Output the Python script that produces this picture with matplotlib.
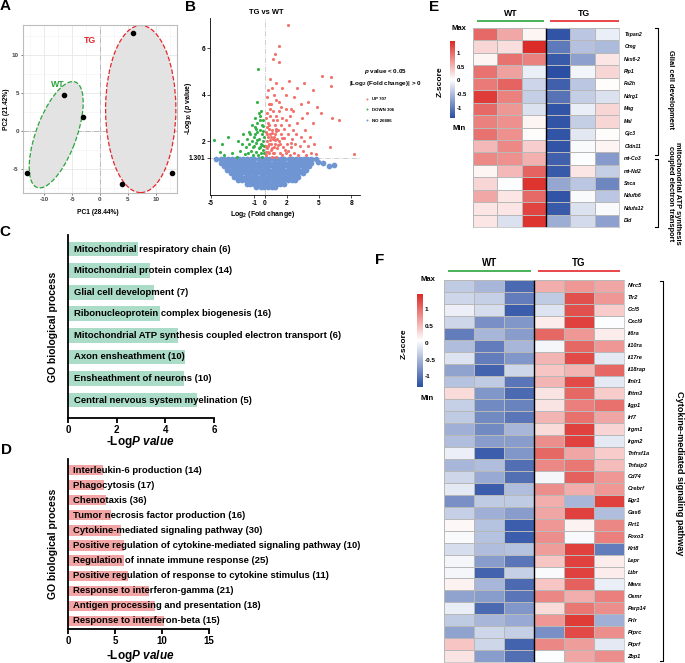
import numpy as np
import matplotlib
matplotlib.use('Agg')
import matplotlib.pyplot as plt
from matplotlib.patches import Ellipse
from matplotlib.colors import LinearSegmentedColormap, Normalize
from matplotlib.cm import ScalarMappable
from matplotlib.lines import Line2D

plt.rcParams['font.family'] = ['Liberation Sans', 'DejaVu Sans']
plt.rcParams['font.weight'] = 'bold'
plt.rcParams['axes.labelweight'] = 'bold'
plt.rcParams['axes.unicode_minus'] = False
plt.rcParams['mathtext.fontset'] = 'custom'
plt.rcParams['mathtext.rm'] = 'Liberation Sans:bold'
plt.rcParams['mathtext.it'] = 'Liberation Sans:italic:bold'
plt.rcParams['mathtext.bf'] = 'Liberation Sans:bold'
plt.rcParams['mathtext.default'] = 'rm'

# ---------- A: PCA ----------
pca_wt_x = [-13.0, -6.5, -3.0]
pca_wt_y = [-5.5, 4.8, 1.8]
pca_tg_x = [6.0, 4.0, 12.9]
pca_tg_y = [13.0, -7.0, -5.5]

# ---------- B: volcano ----------
up_x = [2.1, 1.27, 0.76, 0.95, 1.33, 5.3, 6.1, 6.1, 6.25, 6.9, 6.0, 8.2,
        0.5, 1.0, 1.6, 2.2, 3.0, 3.6, 4.4, 1.9, 2.7, 0.3, 0.8, 4.0, 3.3, 4.8, 5.2,
        2.4, 1.3, 0.55, 0.2,
        0.1, 0.2, 0.15, 0.1, 0.25, 0.2, 0.35, 0.4, 0.45, 0.4, 0.5, 0.45, 0.6, 0.65,
        0.7, 0.6, 0.75, 0.7, 0.85, 0.9, 0.95, 0.9, 1.0, 1.05, 1.1, 1.15, 1.2, 1.1,
        1.3, 1.35, 1.4, 1.45, 1.5, 1.6, 1.6, 1.7, 1.75, 1.8, 1.9, 1.95, 2.0, 2.1,
        2.2, 2.3, 2.3, 2.4, 2.5, 2.6, 2.7, 2.8, 2.9, 3.0, 3.1, 3.2, 3.3, 3.5, 3.6,
        3.7, 3.8, 4.0, 4.2, 4.3, 4.5, 4.7, 3.4, 2.6, 0.3, 0.55, 0.8, 0.3, 0.15,
        0.05, 0.05, 0.35, 0.65, 1.05, 1.45, 1.9, 4.4, 3.9,
        0.12, 0.28, 0.42, 0.58, 0.72, 0.88, 1.02, 1.18, 0.22, 0.38, 0.52, 0.68,
        0.82, 0.98, 1.25, 1.55, 1.85, 2.15, 2.45]
up_y = [7.0, 6.1, 5.55, 5.75, 5.4, 4.8, 4.75, 4.4, 3.0, 2.9, 1.75, 1.45,
        4.7, 4.5, 4.3, 4.6, 4.3, 4.5, 4.2, 4.0, 3.9, 4.2, 4.0, 3.7, 3.6, 3.5, 3.2,
        3.4, 3.7, 3.6, 3.9,
        1.4, 1.7, 2.0, 2.4, 2.8, 3.2, 1.5, 1.9, 2.3, 2.7, 3.1, 3.4, 1.35, 1.7,
        2.1, 2.5, 2.9, 3.3, 1.5, 1.9, 2.3, 2.7, 3.1, 1.35, 1.7, 2.1, 2.5, 2.9,
        3.3, 1.5, 1.9, 2.3, 2.7, 3.0, 1.4, 1.75, 2.15, 2.55, 2.9, 1.5, 1.9, 2.3,
        2.7, 3.1, 1.4, 1.75, 2.1, 2.5, 1.5, 1.9, 2.3, 2.8, 1.4, 1.8, 2.2, 1.6, 2.0,
        2.5, 1.4, 1.8, 2.2, 1.5, 1.9, 1.45, 3.0, 3.3, 1.55, 1.9, 2.2, 2.2, 2.6,
        1.8, 3.0, 3.6, 4.3, 3.8, 3.5, 3.4, 2.8, 3.2,
        1.55, 1.8, 2.05, 2.2, 1.5, 2.05, 2.45, 1.85, 2.3, 2.55, 1.65, 2.35,
        1.75, 2.55, 2.0, 2.15, 1.65, 1.6, 1.95]

down_x = [-4.7, -3.4, -4.2, -4.0, -3.8, -3.1, -2.6, -0.64, -0.73,
          -2.3, -2.1, -1.9, -1.8, -1.7, -1.6, -1.5, -1.45, -1.3, -1.25, -1.2,
          -1.1, -1.05, -1.0, -0.95, -0.9, -0.85, -0.8, -0.75, -0.7, -0.65, -0.6,
          -0.55, -0.5, -0.45, -0.4, -0.35, -0.3, -0.3, -0.25, -0.2, -0.2, -0.15,
          -0.15, -0.1, -0.1, -0.1, -0.35, -0.6, -1.35, -2.0, -2.5,
          -0.25, -0.45, -0.7, -0.9, -1.15, -0.15, -0.5, -0.8]
down_y = [2.08, 2.2, 1.55, 1.9, 1.4, 1.5, 1.35, 5.1, 3.7,
          1.6, 1.9, 1.45, 1.75, 2.1, 1.5, 1.9, 2.4, 1.6, 2.0, 2.7,
          1.4, 1.8, 2.2, 2.6, 3.0, 1.55, 1.95, 2.4, 2.8, 1.4, 1.7,
          2.1, 2.5, 3.1, 1.5, 1.9, 2.3, 2.7, 1.35, 1.65, 2.0, 2.45,
          2.9, 1.5, 1.8, 2.2, 3.3, 3.2, 2.3, 2.3, 2.0,
          1.85, 1.75, 2.05, 2.3, 1.75, 2.65, 2.9, 2.55]

ns_levels = [1.24, 1.09, 0.94, 0.79, 0.64, 0.49, 0.34, 0.19, 0.06]
ns_rows = [
    [-4.5, -4.1, -3.8, -3.4, -3.1, -2.7, -2.4, -2.0, -1.7, -1.3, -1.0, -0.6, -0.3,
     0.1, 0.4, 0.8, 1.1, 1.5, 1.8, 2.2, 2.5, 2.9, 3.2, 3.6, 3.9, 4.3, 4.7],
    [-4.1, -3.8, -3.4, -3.1, -2.7, -2.4, -2.0, -1.7, -1.3, -1.0, -0.6, -0.3, 0.1,
     0.4, 0.8, 1.1, 1.5, 1.8, 2.2, 2.5, 2.9, 3.2, 3.6, 3.9, 4.3],
    [-3.8, -3.5, -3.1, -2.8, -2.4, -2.1, -1.8, -1.4, -1.1, -0.7, -0.4, 0.0, 0.3,
     0.7, 1.0, 1.4, 1.7, 2.1, 2.4, 2.8, 3.1, 3.5, 3.8, 4.1],
    [-3.5, -3.2, -2.8, -2.5, -2.1, -1.8, -1.4, -1.1, -0.7, -0.4, 0.0, 0.3, 0.7,
     1.0, 1.4, 1.7, 2.1, 2.4, 2.8, 3.1, 3.5, 3.8],
    [-3.2, -2.9, -2.5, -2.2, -1.8, -1.5, -1.1, -0.8, -0.4, -0.1, 0.3, 0.6, 1.0,
     1.3, 1.7, 2.0, 2.4, 2.7, 3.1, 3.5],
    [-2.9, -2.5, -2.2, -1.8, -1.5, -1.1, -0.8, -0.4, -0.1, 0.3, 0.6, 1.0, 1.3,
     1.7, 2.0, 2.4, 2.8, 3.1],
    [-2.5, -2.1, -1.8, -1.4, -1.1, -0.7, -0.4, 0.0, 0.3, 0.7, 1.0, 1.4, 1.7,
     2.1, 2.5, 2.8],
    [-1.7, -1.4, -1.0, -0.7, -0.3, 0.0, 0.4, 0.7, 1.1, 1.4, 1.8],
    [-0.8, -0.4, -0.1, 0.3, 0.6, 0.9],
]
ns_extra_x = [4.9, 5.4, 5.9, 6.4]
ns_extra_y = [1.12, 1.08, 0.95, 1.0]

# ---------- C / D: GO enrichment ----------
c_terms = ['Mitochondrial respiratory chain (6)',
           'Mitochondrial protein complex (14)',
           'Glial cell development (7)',
           'Ribonucleoprotein complex biogenesis (16)',
           'Mitochondrial ATP synthesis coupled electron transport (6)',
           'Axon ensheathment (10)',
           'Ensheathment of neurons (10)',
           'Central nervous system myelination (5)']
c_values = [2.86, 3.36, 3.52, 3.77, 4.5, 4.8, 4.78, 5.3]

d_terms = ['Interleukin-6 production (14)',
           'Phagocytosis (17)',
           'Chemotaxis (36)',
           'Tumor necrosis factor production (16)',
           'Cytokine-mediated signaling pathway (30)',
           'Positive regulation of cytokine-mediated signaling pathway (10)',
           'Regulation of innate immune response (25)',
           'Positive regulation of response to cytokine stimulus (11)',
           'Response to interferon-gamma (21)',
           'Antigen processing and presentation (18)',
           'Response to interferon-beta (15)']
d_values = [3.69, 3.83, 4.04, 4.57, 5.6, 5.96, 5.96, 6.35, 8.65, 9.26, 10.2]

# ---------- E / F: heatmaps (WT1 WT2 WT3 TG1 TG2 TG3) ----------
e_genes = ['Tspan2', 'Omg', 'Nkx6-2', 'Plp1', 'Fa2h', 'Ndrg1', 'Mag', 'Mal',
           'Gjc3', 'Cldn11', 'mt-Co3', 'mt-Nd2', 'Snca', 'Ndufb6', 'Ndufa12', 'Dld']
e_values = [
    [1.00, 0.60, 0.10, -1.30, -0.40, -0.10],
    [0.30, 0.25, 1.40, -1.00, -0.45, -0.50],
    [0.10, 0.95, 0.85, -1.25, -0.70, 0.20],
    [0.95, 0.65, -0.10, -1.35, -0.05, 0.30],
    [0.90, 1.05, -0.30, -1.20, -0.40, 0.05],
    [1.30, 0.85, -0.35, -1.05, -0.35, -0.20],
    [1.00, 0.70, -0.20, -1.30, -0.10, 0.30],
    [0.85, 0.75, 0.10, -1.30, -0.35, 0.30],
    [0.95, 0.75, 0.05, -1.30, -0.15, 0.05],
    [0.50, 0.80, 0.35, -1.30, 0.00, 0.10],
    [0.80, 0.75, 0.55, -1.20, 0.02, -0.75],
    [0.10, 0.50, 1.05, -1.25, 0.20, -0.35],
    [0.30, 0.02, 1.35, -0.65, -0.40, -0.90],
    [0.60, 0.20, 1.00, -1.30, 0.00, -0.40],
    [0.20, 0.20, 1.25, -1.25, -0.20, 0.00],
    [0.20, -0.20, 1.35, -0.60, -0.25, -0.70],
]

f_genes = ['Nlrc5', 'Tlr2', 'Ccl5', 'Cxcl9', 'Il6ra', 'Il10ra', 'Il17re', 'Il18rap',
           'Ifnlr1', 'Ifitm3', 'Iigp1', 'Irf7', 'Irgm1', 'Irgm2', 'Tnfrsf1a',
           'Tnfaip3', 'Cd74', 'Crebrf', 'Egr1', 'Gas6', 'Flrt1', 'Foxo3', 'Krt8',
           'Lepr', 'Ltbr', 'Mavs', 'Osmr', 'Parp14', 'Prlr', 'Ptprc', 'Ptprf', 'Zbp1']
f_values = [
    [-0.35, -0.50, -1.10, 0.60, 0.75, 0.65],
    [-0.25, -0.30, -0.95, -0.35, 1.20, 0.75],
    [-0.05, -0.20, -1.20, -0.15, 1.20, 0.40],
    [-0.25, -0.80, -0.75, 0.20, 1.30, 0.05],
    [-0.95, -0.50, -0.70, 1.05, 0.75, 0.20],
    [-0.45, -0.95, -0.50, 0.00, 1.05, 0.75],
    [-0.15, -0.95, -0.75, 0.55, 1.25, -0.10],
    [-0.65, -1.15, -0.25, 0.45, 0.55, 1.05],
    [-0.40, -0.35, -1.00, 0.55, 1.25, -0.10],
    [0.30, -0.75, -1.10, 0.25, 1.05, 0.40],
    [-0.30, -0.85, -0.90, 0.25, 0.90, 1.00],
    [-0.35, -0.85, -1.00, 0.55, 1.00, 0.65],
    [-0.55, -0.85, -0.50, 0.30, 1.30, 0.35],
    [-0.45, -0.70, -0.70, 0.80, 1.30, -0.10],
    [-0.05, -1.20, -0.75, 1.05, 0.65, 0.40],
    [-0.50, -0.45, -1.05, 0.85, 0.95, 0.50],
    [-0.25, -0.60, -1.05, 0.00, 1.10, 0.75],
    [-0.10, -1.20, -0.45, 0.80, 0.60, 0.75],
    [-0.80, -0.35, -0.35, 0.60, -0.50, 1.30],
    [-0.30, -0.55, -0.70, 0.65, 1.30, -0.45],
    [0.12, -0.40, -1.20, 0.75, 0.15, 0.85],
    [0.03, -0.40, -1.20, 0.80, 0.02, 0.90],
    [-0.20, -0.45, -0.40, 0.70, 1.30, -0.95],
    [0.00, -0.70, -1.00, 0.45, 1.30, 0.20],
    [0.00, -1.15, -0.30, 0.03, 1.30, 0.20],
    [0.15, -0.50, -1.10, 0.45, 1.10, -0.07],
    [-0.65, -0.70, -1.00, 0.85, 0.60, 0.90],
    [-0.07, -1.10, -0.75, 0.30, 0.95, 0.80],
    [-0.35, -0.50, -0.60, 0.75, 1.35, -0.55],
    [-0.65, -0.25, -0.30, -0.80, 1.25, 0.80],
    [0.45, -0.25, -1.15, 0.85, 0.70, -0.10],
    [0.25, -0.70, -1.05, 0.05, 0.65, 0.80],
]

W, H = 685, 663
fig = plt.figure(figsize=(W / 100, H / 100), dpi=100)


def add_ax(x0, y0, x1, y1):
    return fig.add_axes([x0 / W, 1 - y1 / H, (x1 - x0) / W, (y1 - y0) / H])


def ftext(x, y, s, **kw):
    fig.text(x / W, 1 - y / H, s, **kw)


green = '#2aa43c'
red = '#e5262b'

# ===== A =====
ax = add_ax(23, 25, 177, 193)
ax.set_xlim(-13.8, 13.8)
ax.set_ylim(-8.2, 14)
ax.set_xticks([-10, -5, 0, 5, 10])
ax.set_yticks([-5, 0, 5, 10])
ax.set_xticks([-12.5, -7.5, -2.5, 2.5, 7.5, 12.5], minor=True)
ax.set_yticks([-7.5, -2.5, 2.5, 7.5, 12.5], minor=True)
ax.grid(True, which='major', color='#e6e6e6', lw=0.6)
ax.grid(True, which='minor', color='#f2f2f2', lw=0.4)
ax.set_axisbelow(True)
ax.axhline(0, color='#b0b0b0', lw=0.6, ls='-.', zorder=1)
ax.axvline(0, color='#b0b0b0', lw=0.6, ls='-.', zorder=1)
ax.add_patch(Ellipse((-7.85, -0.5), 15.6, 6.9, angle=61, facecolor='#e3e3e3',
                     edgecolor=green, ls='--', lw=0.9, zorder=2))
ax.add_patch(Ellipse((7.3, 2.9), 12.6, 22.1, facecolor='#e3e3e3',
                     edgecolor=red, ls='--', lw=0.9, zorder=2))
ax.scatter(pca_wt_x, pca_wt_y, s=9, color='black', zorder=4)
ax.scatter(pca_tg_x, pca_tg_y, s=9, color='black', zorder=4)
ax.text(-7.6, 6.2, 'WT', color=green, fontsize=6.3, ha='center', va='center')
ax.text(-1.85, 12.0, 'TG', color=red, fontsize=6.3, ha='center', va='center')
ax.tick_params(labelsize=4.5, length=1.5, width=0.5, colors='#444444', pad=1.5)
ax.tick_params(which='minor', length=0)
for s in ax.spines.values():
    s.set_color('#bdbdbd')
    s.set_linewidth(0.8)
ftext(98, 212, 'PC1 (28.44%)', fontsize=4.8, ha='center', va='center')
ftext(6, 109, 'PC2 (21.42%)', fontsize=4.8, ha='center', va='center', rotation=90)

# ===== B =====
ax = add_ax(210, 18, 360, 195)
ax.set_xlim(-5.1, 8.8)
ax.set_ylim(-0.3, 7.3)
ns_x, ns_y = [], []
for lev, row in zip(ns_levels, ns_rows):
    ns_x += row
    ns_y += [lev] * len(row)
ns_x += ns_extra_x
ns_y += ns_extra_y
ax.scatter(ns_x, ns_y, s=17, color='#6f96d2', linewidths=0, zorder=2)
ax.scatter(down_x, down_y, s=5, color='#33b24a', linewidths=0, zorder=3)
ax.scatter(up_x, up_y, s=5, color='#f2736c', linewidths=0, zorder=3)
ax.axhline(1.301, color='#c8c8c8', lw=0.6, ls='-.', zorder=1)
ax.axvline(0, color='#c8c8c8', lw=0.6, ls='-.', zorder=1)
ax.set_xticks([-5, -1, 0, 2, 5, 8])
ax.set_yticks([1.301, 2, 4, 6])
ax.set_yticklabels(['1.301', '2', '4', '6'])
ax.spines['top'].set_visible(False)
ax.spines['right'].set_visible(False)
for s in ['left', 'bottom']:
    ax.spines[s].set_linewidth(0.6)
ax.tick_params(labelsize=4.8, length=2, width=0.5, pad=1.5)
ftext(266, 12, 'TG vs WT', fontsize=5.4, ha='center', va='center')
ftext(263, 215, r'Log$_2$ (Fold change)', fontsize=5, ha='center', va='center')
ftext(189, 108, r'-Log$_{10}$ ($\mathit{p}$ value)', fontsize=5, ha='center',
      va='center', rotation=90)
ftext(385, 72, r'$\mathit{p}$ value < 0.05', fontsize=4.5, ha='center', va='center')
ftext(385, 84, r'|Log$_2$ (Fold change)| > 0', fontsize=4.5, ha='center', va='center')
handles = [Line2D([], [], ls='none', marker='o', ms=1.4, color=c, mew=0)
           for c in ['#f2736c', '#33b24a', '#6f96d2']]
ax.legend(handles, ['UP 707', 'DOWN 306', 'NO 26886'], loc='upper left',
          bbox_to_anchor=(366 / W, 1 - 97 / H), bbox_transform=fig.transFigure,
          frameon=False, fontsize=3.2, handlelength=0.6, handletextpad=0.8,
          labelspacing=1.5, borderpad=0, borderaxespad=0)


# ===== C / D =====
def go_panel(box, terms, values, color, xlim, xticks, text_x, ylim, xlab_y):
    ax = add_ax(*box)
    pos = np.arange(len(terms))
    ax.barh(pos, values, height=0.68, color=color, zorder=1)
    for i, t in enumerate(terms):
        ax.text(text_x, i, t, fontsize=6.8, va='center', ha='left', clip_on=False, zorder=3)
    ax.set_xlim(*xlim)
    ax.set_ylim(*ylim)
    ax.set_xticks(xticks)
    ax.set_yticks([])
    ax.spines['top'].set_visible(False)
    ax.spines['right'].set_visible(False)
    ax.spines['left'].set_linewidth(1.3)
    ax.spines['bottom'].set_linewidth(1.3)
    ax.tick_params(axis='x', labelsize=7, length=3.5, width=1.3, pad=1.5)
    x0, y0, x1, y1 = box
    ftext(53, (y0 + y1) / 2, 'GO biological process', fontsize=7.5, rotation=90,
          ha='center', va='center')
    ftext(140, xlab_y, r'-Log$\mathit{P\ value}$', fontsize=8.5, ha='center', va='center')
    return ax


go_panel((68, 235, 214, 418), c_terms, c_values, '#aadcc7', (0, 6), [0, 2, 4, 6],
         0.25, (7.83, -0.65), 442)
go_panel((68, 459, 209, 629), d_terms, d_values, '#f3a5a6', (0, 15), [0, 5, 10, 15],
         0.56, (10.53, -0.73), 656)

# ===== E / F heatmaps =====
cmap = LinearSegmentedColormap.from_list('zs', ['#2a4ea3', '#ffffff', '#dc2a26'])


def heat_panel(box, values, genes, norm, gene_x, gene_fs, header_y, text_y,
               wt_span, tg_span, header_fs):
    ax = add_ax(*box)
    data = np.array(values)
    n = data.shape[0]
    ax.pcolormesh(data, cmap=cmap, norm=norm, edgecolors='#b8b8b8', linewidth=0.5)
    ax.set_xlim(0, 6)
    ax.set_ylim(n, 0)
    ax.set_xticks([])
    ax.set_yticks([])
    for s in ax.spines.values():
        s.set_color('#b8b8b8')
        s.set_linewidth(0.5)
    ax.axvline(3, color='black', lw=1.0)
    for i, g in enumerate(genes):
        ax.text(gene_x, i + 0.5, g, fontsize=gene_fs, style='italic', ha='left',
                va='center', clip_on=False)
    ax.plot(wt_span, [header_y, header_y], color=green, lw=1.2, clip_on=False,
            solid_capstyle='butt')
    ax.plot(tg_span, [header_y, header_y], color=red, lw=1.2, clip_on=False,
            solid_capstyle='butt')
    ax.text(np.mean(wt_span), text_y, 'WT', fontsize=header_fs, ha='center',
            va='center', clip_on=False)
    ax.text(np.mean(tg_span), text_y, 'TG', fontsize=header_fs, ha='center',
            va='center', clip_on=False)
    return ax


def bracket(ax, x, y0, y1, tick=0.12):
    ax.plot([x - tick, x, x, x - tick], [y0, y0, y1, y1], color='black', lw=0.8,
            clip_on=False)


def colorbar(box, norm, maxmin, z_pos, fs):
    cax = add_ax(*box)
    cb = fig.colorbar(ScalarMappable(norm=norm, cmap=cmap), cax=cax,
                      ticks=[-1, -0.5, 0, 0.5, 1])
    cb.ax.set_yticklabels(['-1', '-0.5', '0', '0.5', '1'])
    cb.outline.set_visible(False)
    cb.ax.tick_params(labelsize=fs, length=0, pad=1.5)
    (mx, my), (nx, ny) = maxmin
    ftext(mx, my, 'Max', fontsize=5.5, ha='center', va='center')
    ftext(nx, ny, 'Min', fontsize=5.5, ha='center', va='center')
    ftext(z_pos[0], z_pos[1], 'Z-score', fontsize=6, rotation=90, ha='center', va='center')


norm_e = Normalize(-1.35, 1.42)
ax_e = heat_panel((473, 28, 619, 227), e_values, e_genes, norm_e, 6.22, 3.7,
                  -0.59, -1.15, (0.18, 2.9), (3.15, 6.0), 6.3)
bracket(ax_e, 7.59, 0.0, 10.2)
bracket(ax_e, 7.59, 10.55, 16.0)
ax_e.text(8.1, 4.95, 'Glial cell development', fontsize=5.4, rotation=270,
          ha='center', va='center', clip_on=False)
ax_e.text(8.28, 13.3, 'mitochondrial ATP synthesis\ncoupled electron transport',
          fontsize=5.4, rotation=270, ha='center', va='center', linespacing=1.0,
          clip_on=False)
colorbar((450, 41, 454.5, 118), norm_e, ((459, 28), (459, 129)), (440.5, 82), 4.2)

norm_f = Normalize(-1.32, 1.46)
ax_f = heat_panel((444, 280, 624, 662), f_values, f_genes, norm_f, 6.12, 4.1,
                  -0.75, -1.42, (0.13, 2.9), (3.13, 5.87), 7)
bracket(ax_f, 7.3, 0.05, 31.95, tick=0.1)
ax_f.text(7.85, 16.2, 'Cytokine-mediated signaling pathway', fontsize=6.6,
          rotation=270, ha='center', va='center', clip_on=False)
colorbar((417, 294, 422.5, 387), norm_f, ((428, 279), (427, 399)), (404.5, 344), 4.6)

# panel letters
for letter, x, y in [('A', 5, 6), ('B', 190, 7), ('C', 5, 232), ('D', 6, 450),
                     ('E', 434, 7), ('F', 380, 260)]:
    ftext(x, y, letter, fontsize=11, ha='center', va='center')

fig.savefig('out.png', dpi=100)
